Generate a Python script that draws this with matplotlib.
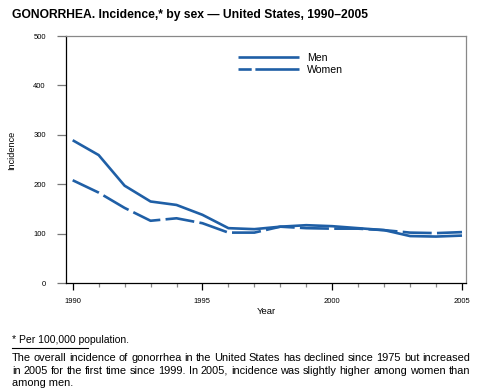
import matplotlib
matplotlib.use("Agg")
import matplotlib.pyplot as plt
from matplotlib.lines import Line2D
from matplotlib.ticker import MultipleLocator, FixedLocator

years = list(range(1990, 2006))
men = [289, 259, 197, 165, 158, 138, 111, 109, 114, 117, 115, 111, 107, 95, 94, 96]
women = [208, 183, 152, 126, 131, 121, 102, 102, 114, 111, 110, 110, 107, 102, 101, 103]

title = "GONORRHEA. Incidence,* by sex \u2014 United States, 1990\u20132005"
footnote = "* Per 100,000 population."
para = ["The overall incidence of gonorrhea in the United States has declined since 1975 but increased",
        "in 2005 for the first time since 1999. In 2005, incidence was slightly higher among women than",
        "among men."]

plt.rcParams['font.family'] = ['Liberation Sans', 'DejaVu Sans']
color = '#1f5fa6'

W, H = 480, 392
fig = plt.figure(figsize=(4.8, 3.92), dpi=100)
ax = fig.add_axes([66/W, 1-283/H, 400/W, 247/H])

ax.plot(years, men, color=color, lw=1.9, solid_capstyle='butt', label='Men')
ax.plot(years, women, color=color, lw=1.9, dashes=(11, 2), dash_capstyle='butt', label='Women')

ax.set_xlim(1990 - 6.7/26, 2005 + 4/26)
ax.set_ylim(0, 500)
ax.xaxis.set_major_locator(FixedLocator([1990, 1995, 2000, 2005]))
ax.xaxis.set_minor_locator(MultipleLocator(1))
ax.yaxis.set_major_locator(MultipleLocator(100))

for s in ['left', 'bottom']:
    ax.spines[s].set_color('black')
    ax.spines[s].set_linewidth(0.9)
for s in ['top', 'right']:
    ax.spines[s].set_color('#888888')
    ax.spines[s].set_linewidth(0.9)

ax.tick_params(axis='x', which='major', direction='out', length=5, width=0.9, color='black',
               labelsize=5.5, pad=5.5)
ax.tick_params(axis='x', which='minor', direction='out', length=3, width=0.9, color='#888888')
ax.tick_params(axis='y', which='major', direction='out', length=6.5, width=0.9, color='#777777',
               labelsize=5.5, pad=8)

ax.set_xlabel('Year', fontsize=6.8, labelpad=2)
fig.text(12/W, 1-150/H, 'Incidence', fontsize=6.6, rotation=90, ha='center', va='center')

leg_handles = [Line2D([], [], color=color, lw=1.9, solid_capstyle='butt'),
               Line2D([], [], color=color, lw=1.9, dashes=(5, 1.4, 16, 0), dash_capstyle='butt')]
ax.legend(leg_handles, ['Men', 'Women'], loc='upper left', bbox_to_anchor=(0.42, 0.95),
          frameon=False, fontsize=7.6, handlelength=5.8, handletextpad=0.75, labelspacing=0.2,
          borderaxespad=0)

fig.text(12/W, 1-15/H, title, fontsize=8.7, fontweight='bold', va='center', ha='left')
fig.text(12/W, 1-340/H, footnote, fontsize=7.5, va='center', ha='left')
fig.add_artist(Line2D([12/W, 88/W], [1-348/H, 1-348/H], color='black', lw=0.8))

# justified paragraph
renderer = fig.canvas.get_renderer()
left_px, right_px = 12, 470
fs = 7.9
for i, line in enumerate(para):
    y = 1 - (358 + 12.5*i)/H
    words = line.split(' ')
    if i == len(para) - 1:
        fig.text(left_px/W, y, line, fontsize=fs, va='center', ha='left')
        continue
    arts = [fig.text(0, y, w, fontsize=fs, va='center', ha='left') for w in words]
    widths = [a.get_window_extent(renderer).width for a in arts]
    gap = (right_px - left_px - sum(widths)) / (len(words) - 1)
    x = left_px
    for a, wd in zip(arts, widths):
        a.set_x(x/W)
        x += wd + gap

fig.savefig('out.png', dpi=100)
